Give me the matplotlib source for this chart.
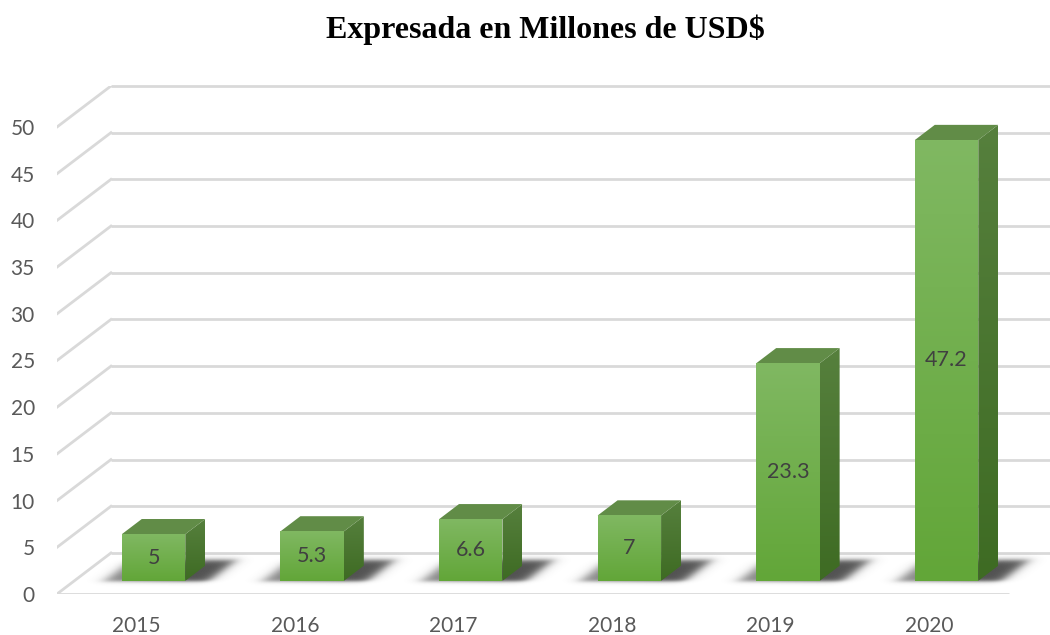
import numpy as np
import matplotlib
matplotlib.use("Agg")
import matplotlib.pyplot as plt
from matplotlib.patches import Polygon
from matplotlib.colors import LinearSegmentedColormap

# Chart data
years = ["2015", "2016", "2017", "2018", "2019", "2020"]
values = [5, 5.3, 6.6, 7, 23.3, 47.2]
value_labels = ["5", "5.3", "6.6", "7", "23.3", "47.2"]
y_ticks = [0, 5, 10, 15, 20, 25, 30, 35, 40, 45, 50]
title = "Expresada en Millones de USD$"

# Oblique projection used for the 3-D look (depth d in 0..1)
DX = 0.34      # horizontal shift of the back wall, in category units
DY = 4.39      # vertical shift of the back wall, in value units
BAR_W = 0.40
D_FRONT, D_BACK = 0.32, 0.69
YMAX = 50


def proj(u, v, d):
    return (u + d * DX, v + d * DY)


W, H = 1050, 635
fig = plt.figure(figsize=(W / 100, H / 100), dpi=100)
fig.patch.set_facecolor("white")

left_px, floor_px = 57, 594
unit_x = 158.6
unit_y = 9.34
ax_w = (len(years) + DX) * unit_x
ax_h = (YMAX + DY) * unit_y
ax = fig.add_axes([left_px / W, (H - floor_px) / H, ax_w / W, ax_h / H])
ax.set_xlim(0, len(years) + DX)
ax.set_ylim(0, YMAX + DY)
for s in ax.spines.values():
    s.set_visible(False)
ax.set_facecolor("none")

grid_c = "#d9d9d9"
n = len(years)
# back wall gridlines and their diagonal returns on the side wall
for t in y_ticks:
    bx, by = proj(0, t, 1)
    ax.plot([bx, n + DX + 1], [by, by], color=grid_c, lw=2.0, zorder=1,
            solid_capstyle="butt", clip_on=False)
    ax.plot([0, bx], [t, by], color=grid_c, lw=2.0, zorder=1)
# front edge of the floor
ax.plot([0, n], [0, 0], color=grid_c, lw=2.0, zorder=1, solid_capstyle="butt")

# soft shadows on the floor
gx = np.linspace(0, n + DX, 1400)
gy = np.linspace(0, DY, 120)
GX, GY = np.meshgrid(gx, gy)
Dd = GY / DY
Uu = GX - Dd * DX


def step(x, a, s):
    return 0.5 * (1 + np.tanh((x - a) / s))


alpha = np.zeros_like(GX)
for i, v in enumerate(values):
    u0 = i + 0.5 - BAR_W / 2
    u1 = i + 0.5 + BAR_W / 2
    su = step(Uu, u0 - 0.11, 0.05) * (1 - step(Uu, u1 + 0.15, 0.05))
    sd = step(Dd, D_FRONT - 0.02, 0.05) * (1 - step(Dd, D_BACK + 0.12, 0.07))
    ramp = 0.65 + 0.35 * np.clip((Uu - u0 + 0.1) / (u1 - u0 + 0.1), 0, 1)
    alpha = np.maximum(alpha, su * sd * ramp * 0.85)
shadow = np.zeros(GX.shape + (4,))
shadow[..., :3] = 0.2
shadow[..., 3] = alpha
ax.imshow(shadow, extent=[0, n + DX, 0, DY], origin="lower", aspect="auto",
          zorder=2, interpolation="bilinear")


def gradient_face(poly_pts, c_top, c_bottom, z):
    xs = [p[0] for p in poly_pts]
    ys = [p[1] for p in poly_pts]
    cmap = LinearSegmentedColormap.from_list("g", [c_bottom, c_top])
    grad = np.linspace(0, 1, 256).reshape(-1, 1)
    im = ax.imshow(grad, cmap=cmap, extent=[min(xs), max(xs), min(ys), max(ys)],
                   origin="lower", aspect="auto", zorder=z, interpolation="bilinear")
    patch = Polygon(poly_pts, closed=True, facecolor="none", edgecolor="none", zorder=z)
    ax.add_patch(patch)
    im.set_clip_path(patch)


for i, v in enumerate(values):
    u0 = i + 0.5 - BAR_W / 2
    u1 = i + 0.5 + BAR_W / 2
    front = [proj(u0, 0, D_FRONT), proj(u1, 0, D_FRONT),
             proj(u1, v, D_FRONT), proj(u0, v, D_FRONT)]
    side = [proj(u1, 0, D_FRONT), proj(u1, 0, D_BACK),
            proj(u1, v, D_BACK), proj(u1, v, D_FRONT)]
    top = [proj(u0, v, D_FRONT), proj(u1, v, D_FRONT),
           proj(u1, v, D_BACK), proj(u0, v, D_BACK)]
    gradient_face(side, "#56803d", "#3e6b23", 4)
    ax.add_patch(Polygon(top, closed=True, facecolor="#618c47", edgecolor="none", zorder=4))
    gradient_face(front, "#80b862", "#62a638", 5)
    cx, cy = proj(i + 0.5, v / 2, D_FRONT)
    ax.text(cx, cy, value_labels[i], ha="center", va="center", fontsize=15.5,
            family="Lato", color="#404040", zorder=6)

# axis labels on the front plane
ax.set_yticks(y_ticks)
ax.set_yticklabels([str(t) for t in y_ticks])
ax.set_xticks([i + 0.5 for i in range(n)])
ax.set_xticklabels(years)
ax.tick_params(axis="y", length=0, pad=16, labelsize=15, labelcolor="#595959")
ax.tick_params(axis="x", length=0, pad=16, labelsize=15, labelcolor="#595959")
for lab in ax.get_xticklabels() + ax.get_yticklabels():
    lab.set_family("Lato")

fig.text(545 / W, 1 - 30 / H, title, ha="center", va="center", fontsize=23,
         fontweight="bold", family="Liberation Serif", color="black")

fig.savefig("out.png", dpi=100)
